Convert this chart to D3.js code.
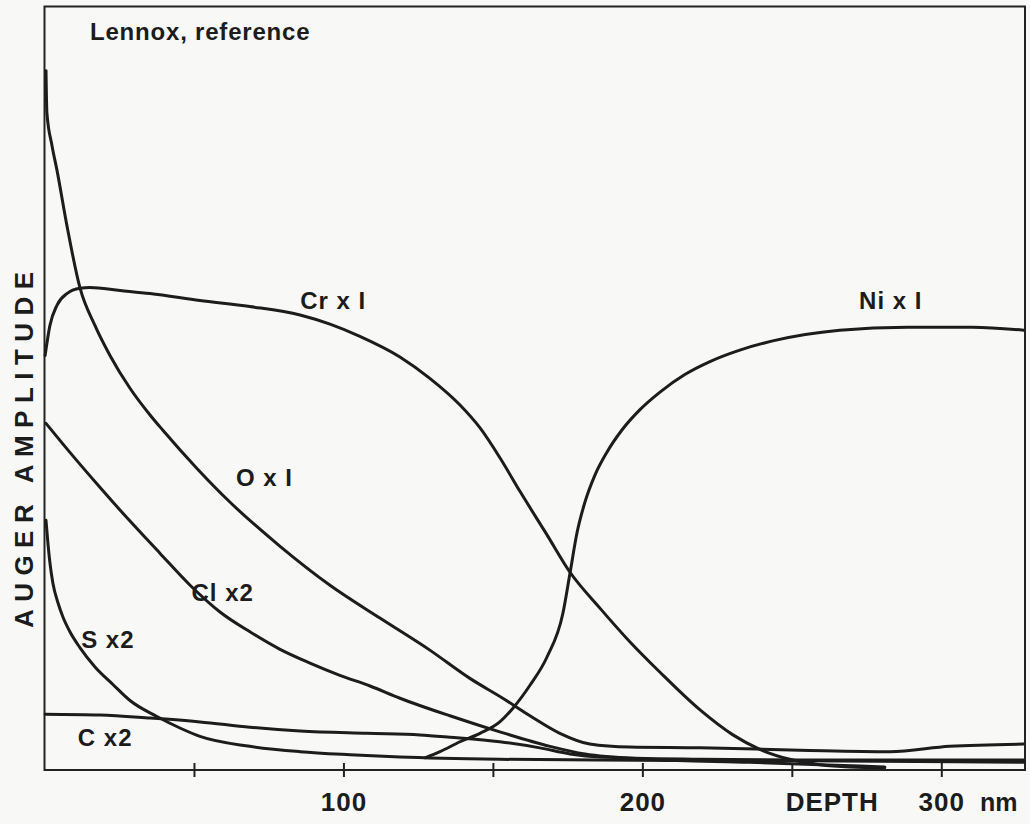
<!DOCTYPE html>
<html>
<head>
<meta charset="utf-8">
<script src="https://d3js.org/d3.v7.min.js"></script>
<style>
  html, body { margin: 0; padding: 0; background: #f8f8f6; }
  svg { display: block; }
  text { font-family: "Liberation Sans", Arial, sans-serif; font-weight: bold; fill: #1c1c1c; }
</style>
</head>
<body>
<script>
// depth (nm), amplitude (arbitrary units, 0..100)
const crData = [[0.2,54.3],[1.8,58.2],[4.2,60.9],[7.5,62.4],[11.9,63.1],[15.2,63.2],[25.3,62.8],[35.3,62.4],[52,61.5],[68.7,60.7],[85.5,59.6],[95.5,58.4],[105.5,56.8],[118.9,54.1],[128.9,51.3],[139,47.8],[145.7,44.8],[152.5,40.8],[159.2,36.4],[168.1,30.8],[175.8,25.9],[185.8,21.2],[195.8,16.8],[205.9,12.8],[219.2,7.9],[230.3,4.6],[239.3,2.7],[249.3,1.4],[259.4,0.7],[269.4,0.4],[281.1,0.3]]
const niData = [[127.3,1.6],[132.3,2.4],[139,3.7],[145.7,4.8],[152.3,6.3],[156.7,8.1],[162.4,11.1],[168.1,14.8],[173.4,20.5],[175.8,25.8],[178.1,31],[180.8,35.1],[184.1,38.6],[188.1,41.6],[193.1,44.5],[199.2,47.2],[205.9,49.5],[214.2,51.8],[222.6,53.5],[232.6,55],[243.6,56.2],[266,57.6],[288.5,58],[310.5,58],[327.6,57.6]]
const oData = [[0.5,91.6],[0.8,86.1],[2.5,81.8],[4.2,78.5],[7.5,71.3],[11.9,63.1],[16.9,58.2],[21.9,54.3],[28.6,50],[35.3,46.5],[39.6,44.5],[51,39.5],[62,35.1],[78.8,29.3],[95.5,24.2],[112.2,19.9],[128.9,15.7],[142.3,12],[153.3,9.4],[162.4,7.1],[172.4,4.8],[182.4,3.4],[195.8,3],[219.2,2.9],[252.7,2.6],[282.8,2.4],[302.8,3.1],[327.6,3.4]]
const clData = [[0.5,45.4],[8.5,41.6],[18.6,37],[28.6,32.6],[38.6,28.4],[48.7,24.2],[58.7,20.7],[68.7,18.1],[78.8,15.8],[88.8,14],[98.8,12.4],[108.9,11],[118.9,9.4],[135.6,7.1],[152.3,5],[169.1,3.1],[180.8,2.1],[202.5,1.4],[235.9,1],[259.4,0.7],[281.1,0.4]]
const cData = [[0.2,7.3],[18.6,7.2],[35.3,6.8],[52,6.3],[68.7,5.6],[85.5,5.1],[107.9,4.8],[125.6,4.6],[135.6,4.3],[152.3,3.7],[165.7,2.9],[175.8,2.1],[185.8,1.7],[219.2,1.4],[252.7,1.3],[327.6,1.3]]
const sData = [[0.5,32.7],[1.2,29.5],[1.8,27.2],[2.8,24.5],[4.5,21.9],[6.2,20],[8.5,18.1],[11.9,16],[16.9,13.5],[22.9,11.2],[28.6,9.1],[37.6,7],[45.3,5.5],[52,4.4],[68.7,3.1],[85.5,2.4],[102.2,2],[118.9,1.7],[152.3,1.4],[185.8,1.3],[252.7,1.2],[327.6,1]]

const seriesNames = ['Cr x I', 'Ni x I', 'O x I', 'Cl x2', 'C x2', 'S x2']
const seriesData = [crData, niData, oData, clData, cData, sData]
// label anchor per series: [depth, amplitude]
const labelAt = [[96.6, 60.4], [283.1, 60.4], [73.6, 37.2], [59.6, 22.2], [20.3, 3.2], [21.2, 16.0]]

const tickValues = [50, 100, 150, 200, 250, 300]
const tickLabels = { 100: '100', 200: '200', 300: '300' }

const width = 1030
const height = 824

const x = d3.scaleLinear().domain([0, 328]).range([44.5, 1025])
const y = d3.scaleLinear().domain([0, 100]).range([770, 6.5])

const svg = d3.select('body').append('svg')
  .attr('width', width)
  .attr('height', height)

// frame
svg.append('rect')
  .attr('x', x(0)).attr('y', y(100))
  .attr('width', x(328) - x(0)).attr('height', y(0) - y(100))
  .attr('fill', 'none')
  .attr('stroke', '#222')
  .attr('stroke-width', 2)

const axis = svg.append('g')
  .attr('transform', `translate(0,${y(0)})`)
  .call(d3.axisBottom(x).tickValues(tickValues).tickSize(7).tickFormat(d => tickLabels[d] || ''))
axis.select('.domain').remove()
axis.selectAll('.tick line')
  .attr('y1', -7).attr('y2', 7)
  .attr('stroke', '#222').attr('stroke-width', 2)
axis.selectAll('.tick text')
  .attr('y', 41).attr('dy', 0)
  .attr('font-size', 26)
  .attr('font-family', '"Liberation Sans", Arial, sans-serif')
  .attr('font-weight', 'bold')
  .attr('letter-spacing', 1)
  .attr('fill', '#1c1c1c')

svg.append('text')
  .attr('x', x(263.5)).attr('y', 811)
  .attr('text-anchor', 'middle')
  .attr('font-size', 26)
  .attr('letter-spacing', 1)
  .text('DEPTH')

svg.append('text')
  .attr('x', 980).attr('y', 811)
  .attr('font-size', 25)
  .text('nm')

svg.append('text')
  .attr('transform', `translate(33,${(272 + 628) / 2}) rotate(-90)`)
  .attr('text-anchor', 'middle')
  .attr('font-size', 26)
  .attr('textLength', 356)
  .attr('lengthAdjust', 'spacing')
  .text('AUGER AMPLITUDE')

svg.append('text')
  .attr('x', 90).attr('y', 40)
  .attr('font-size', 24)
  .attr('letter-spacing', 0.8)
  .text('Lennox, reference')

const line = d3.line()
  .x(d => x(d[0]))
  .y(d => y(d[1]))
  .curve(d3.curveMonotoneX)

svg.append('g')
  .selectAll('path')
  .data(seriesData)
  .join('path')
  .attr('d', line)
  .attr('fill', 'none')
  .attr('stroke', '#1c1c1c')
  .attr('stroke-width', 3)
  .attr('stroke-linejoin', 'round')
  .attr('stroke-linecap', 'round')

svg.append('g')
  .selectAll('text')
  .data(seriesNames)
  .join('text')
  .attr('x', (d, i) => x(labelAt[i][0]))
  .attr('y', (d, i) => y(labelAt[i][1]))
  .attr('text-anchor', 'middle')
  .attr('font-size', 24)
  .attr('letter-spacing', 1)
  .text(d => d)
</script>
</body>
</html>
